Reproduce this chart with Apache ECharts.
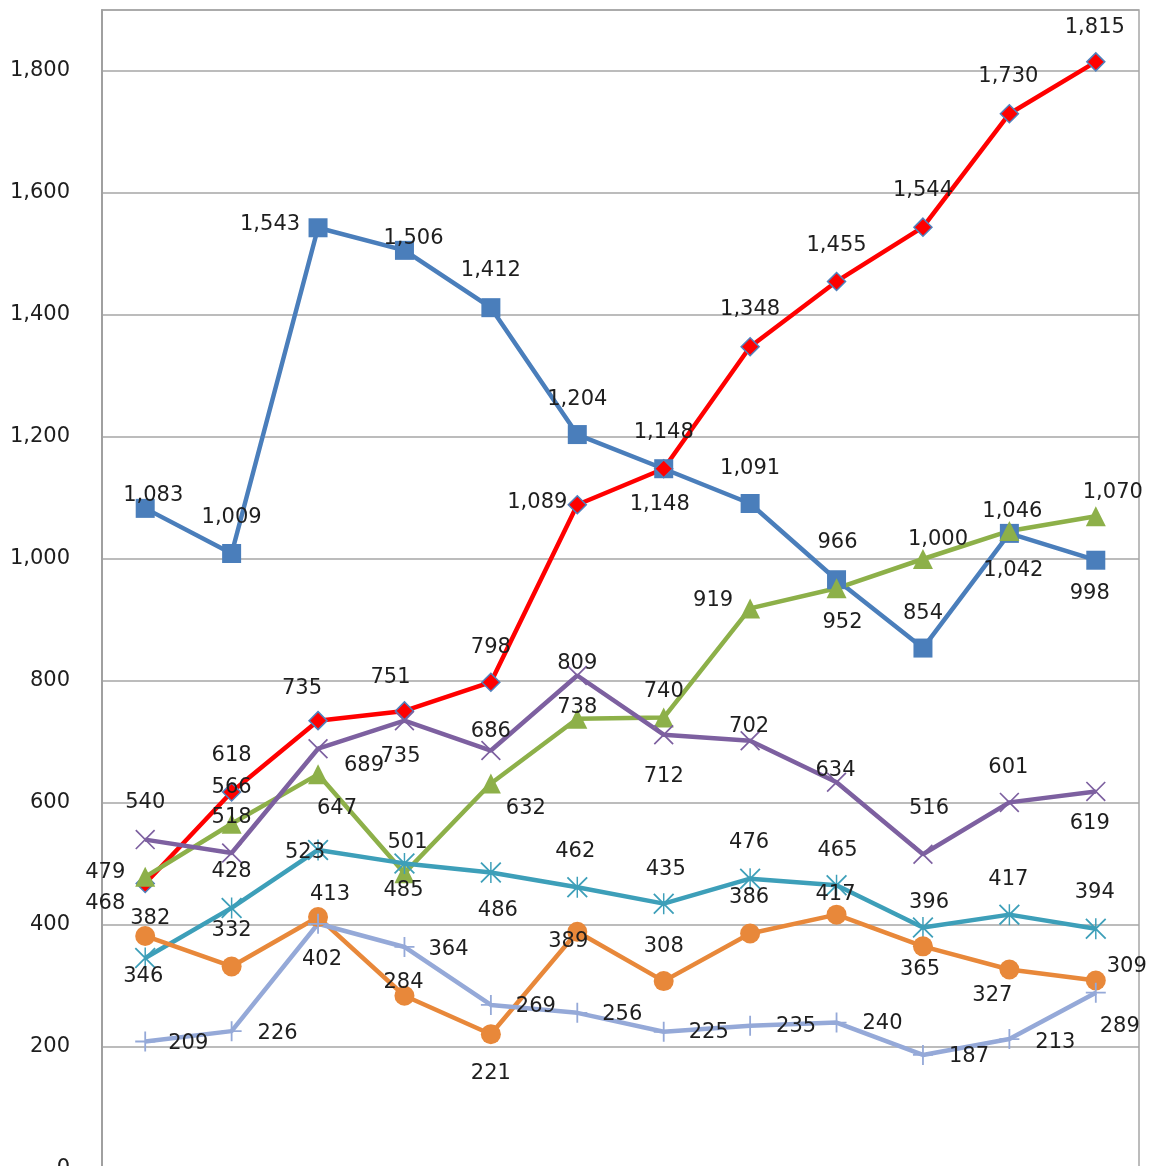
<!DOCTYPE html>
<html><head><meta charset="utf-8">
<script src="https://cdn.jsdelivr.net/npm/echarts@6/dist/echarts.min.js"></script>
<style>html,body{margin:0;padding:0;overflow:hidden;background:#fff}#c{width:1149px;height:1180px}</style>
</head><body><div id="c"></div><script>
// ---- data ----
const categories = ['1','2','3','4','5','6','7','8','9','10','11','12'];
const blueValues   = [1083,1009,1543,1506,1412,1204,1148,1091,966,854,1042,998];
const redValues    = [468,618,735,751,798,1089,1148,1348,1455,1544,1730,1815];
const greenValues  = [479,566,647,485,632,738,740,919,952,1000,1046,1070];
const purpleValues = [540,518,689,735,686,809,712,702,634,516,601,619];
const tealValues   = [346,428,523,501,486,462,435,476,465,396,417,394];
const orangeValues = [382,332,413,284,221,389,308,386,417,365,327,309];
const lilacValues  = [209,226,402,364,269,256,225,235,240,187,213,289];
const yTickValues  = [0,200,400,600,800,1000,1200,1400,1600,1800];

// ---- label offsets (styling, relative to each marker) ----
const blueOff   = [[8,-13],[0,-36],[-48,-3],[9,-12],[0,-37],[0,-35],[0,-36],[0,-35],[1,-37],[0,-35],[4,37],[-6,33]];
const redOff    = [[-40,20],[0,-36],[-16,-32],[-14,-33],[0,-35],[-40,-2],[-4,36],[0,-37],[0,-36],[0,-37],[-1,-37],[-1,-34]];
const greenOff  = [[-40,-4],[0,-36],[19,34],[-1,17],[35,25],[0,-11],[0,-26],[-37,-8],[6,34],[15,-19],[3,-19],[17,-24]];
const purpleOff = [[0,-37],[0,-35],[46,17],[-4,36],[0,-19],[0,-12],[0,42],[-1,-14],[-1,-12],[6,-46],[-1,-35],[-6,32]];
const tealOff   = [[-2,19],[0,-36],[-13,3],[3,-21],[7,38],[-2,-36],[2,-34],[-1,-36],[1,-35],[6,-25],[-1,-35],[-1,-36]];
const orangeOff = [[5,-17],[0,-36],[12,-23],[-1,-13],[0,39],[-9,10],[0,-35],[-1,-36],[-1,-20],[-3,23],[-17,26],[31,-14]];
const lilacOff  = [[43,2],[46,2],[4,36],[44,3],[45,2],[45,2],[45,1],[46,1],[46,1],[46,2],[46,3],[24,34]];

const PLUS = 'path://M9.1 0h1.8v9.1h9.1v1.8h-9.1v9.1h-1.8v-9.1h-9.1v-1.8h9.1z';
const XMARK = 'path://M0 1.2L1.2 0L20 18.8L18.8 20Z M18.8 0L20 1.2L1.2 20L0 18.8Z';
const STAR = 'path://M0 1.2L1.2 0L20 18.8L18.8 20Z M18.8 0L20 1.2L1.2 20L0 18.8Z M9.3 0L10.7 0L10.7 20L9.3 20Z';

const fmt = v => Number(v).toLocaleString('en-US');
function mk(name, values, offs, color, symbol, size, extraItem) {
  return {
    name, type: 'line', data: values.map((v, i) => ({ value: v, label: { offset: offs[i] } })),
    symbol, symbolSize: size, symbolKeepAspect: true,
    lineStyle: { color, width: 4.5 },
    itemStyle: Object.assign({ color }, extraItem || {}),
    label: { show: true, position: 'inside', formatter: p => fmt(p.value),
             fontFamily: 'DejaVu Sans', fontSize: 21, color: '#1e1e1e' },
    emphasis: { disabled: true },
    animation: false, clip: false
  };
}

const chart = echarts.init(document.getElementById('c'), null, { renderer: 'canvas' });
chart.setOption({
  animation: false,
  grid: { left: 102, right: 10, top: 10, bottom: 11, show: true, borderColor: '#a6a6a6', borderWidth: 1.5 },
  xAxis: { type: 'category', data: categories, boundaryGap: true,
    axisLabel: { show: false }, axisTick: { show: false },
    axisLine: { show: true, lineStyle: { color: '#a6a6a6', width: 1.5 } } },
  yAxis: { type: 'value', min: 0, max: 1900, interval: 200,
    axisLine: { show: true, lineStyle: { color: '#a0a0a0', width: 2 } },
    axisTick: { show: false },
    splitLine: { lineStyle: { color: '#a6a6a6', width: 1.5 } },
    axisLabel: { margin: 32, fontFamily: 'DejaVu Sans', fontSize: 21, color: '#1e1e1e',
      formatter: v => yTickValues.includes(v) ? fmt(v) : '' } },
  series: [
    mk('blue', blueValues, blueOff, '#4a7ebb', 'rect', 19),
    mk('red', redValues, redOff, '#ff0000', 'diamond', 18, { borderColor: '#4f81bd', borderWidth: 1.5 }),
    mk('green', greenValues, greenOff, '#8db049', 'triangle', 20),
    mk('purple', purpleValues, purpleOff, '#7d60a0', XMARK, 20),
    mk('teal', tealValues, tealOff, '#3d9fb9', STAR, 21),
    mk('orange', orangeValues, orangeOff, '#e8883a', 'circle', 20),
    mk('lilac', lilacValues, lilacOff, '#95a9d8', PLUS, 20)
  ]
});
</script></body></html>
